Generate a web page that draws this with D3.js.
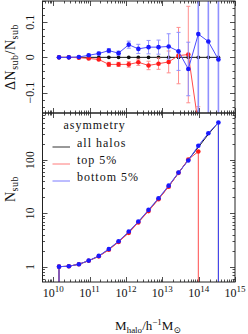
<!DOCTYPE html>
<html>
<head>
<meta charset="utf-8">
<script src="https://cdn.jsdelivr.net/npm/d3@7"></script>
<style>
body { margin: 0; background: #fff; }
svg text { font-family: "Liberation Serif", "DejaVu Serif", serif; fill: #111; }
</style>
</head>
<body>
<div id="viz"></div>
<script>
// halo mass bins (h^-1 Msun)
const haloMass = [1.45e10, 2.7e10, 5.1e10, 9.5e10, 1.8e11, 3.4e11, 6.3e11, 1.2e12, 2.2e12,
                  4.2e12, 7.9e12, 1.5e13, 2.8e13, 5.2e13, 9.8e13, 1.85e14, 3.5e14]

// mean number of subhalos
const nAll    = [1.0, 1.02, 1.11, 1.29, 1.57, 2.11, 2.96, 4.39, 6.84, 11.3, 18.7, 32.0, 57.0, 101, 173, 303, 506]
const nTop    = [1.0, 1.02, 1.11, 1.29, 1.56, 2.07, 2.90, 4.30, 6.74, 11.0, 18.3, 31.6, 57.3, 102, 144]
const nBottom = [1.0, 1.02, 1.11, 1.30, 1.59, 2.15, 3.0, 4.55, 7.0, 11.6, 19.2, 33, 58, 97.6, 184, 317, 503]

// fractional difference to all halos
const dTop       = [0, 0, -0.001, -0.003, -0.006, -0.020, -0.020, -0.020, -0.014, -0.023, -0.018, -0.013, 0.005, 0.008, -0.19]
const dTopErr    = [0, 0, 0.001, 0.002, 0.003, 0.006, 0.006, 0.008, 0.009, 0.012, 0.016, 0.031, 0.08, 0.137, 0.05]
const dBottom    = [0, 0, 0.001, 0.006, 0.011, 0.019, 0.012, 0.036, 0.024, 0.029, 0.029, 0.031, 0.017, -0.033, 0.066, 0.045, -0.006]
const dBottomErr = [0, 0, 0.002, 0.003, 0.004, 0.006, 0.006, 0.01, 0.013, 0.019, 0.02, 0.036, 0.054, 0.076, 0.5, 0.5, 0.5]

const yTopLabels = [0.1, 0, -0.1]
const yBotLabels = [1, 10, 100]
const xLabelExp = [10, 11, 12, 13, 14, 15]

const legendNames = ["all halos", "top 5%", "bottom 5%"]

const width = 248, height = 334
const pLeft = 42.5, pRight = 235, pTop = 1, pMid = 113, pBottom = 282

const cAll = "#111", cTop = "#ff1a1a", cBot = "#1a1aff"
const cTopLine = "#ff4a4a", cBotLine = "#4a4aff"
const cTopErr = "#ff8f8f", cBotErr = "#9090ff"

const svg = d3.select("#viz").append("svg")
    .attr("width", width)
    .attr("height", height)

const x = d3.scaleLog().domain([5.1e9, 1e15]).range([pLeft, pRight])
const yTop = d3.scaleLinear().domain([-0.158, 0.16]).range([pMid, pTop])
const yBot = d3.scaleLog().domain([0.516, 758]).range([pBottom, pMid])

svg.append("clipPath").attr("id", "clipTop").append("rect")
    .attr("x", pLeft).attr("y", pTop).attr("width", pRight - pLeft).attr("height", pMid - pTop)
svg.append("clipPath").attr("id", "clipBot").append("rect")
    .attr("x", pLeft).attr("y", pMid).attr("width", pRight - pLeft).attr("height", pBottom - pMid)

// ---- ticks
const axes = svg.append("g").attr("stroke", "#222").attr("stroke-width", 0.8)
const xt = x.ticks().filter(d => d >= x.domain()[0] && d <= x.domain()[1])
const isPow = d => Math.abs(Math.log10(d) - Math.round(Math.log10(d))) < 1e-6
;[[pTop, pMid], [pMid, pBottom]].forEach(([y0, y1]) => {
    xt.forEach(d => {
        const len = isPow(d) ? 5 : 2.5
        const px = Math.round(x(d)) + 0.5
        axes.append("line").attr("x1", px).attr("x2", px).attr("y1", y0).attr("y2", y0 + len)
        axes.append("line").attr("x1", px).attr("x2", px).attr("y1", y1).attr("y2", y1 - len)
    })
})
yTop.ticks(16).forEach(d => {
    const major = Math.abs(d * 10 - Math.round(d * 10)) < 1e-6
    const len = major ? 5 : 2.5
    const py = Math.round(yTop(d)) + 0.5
    axes.append("line").attr("x1", pLeft).attr("x2", pLeft + len).attr("y1", py).attr("y2", py)
    axes.append("line").attr("x1", pRight).attr("x2", pRight - len).attr("y1", py).attr("y2", py)
})
yBot.ticks().filter(d => d >= yBot.domain()[0] && d <= yBot.domain()[1]).forEach(d => {
    const len = isPow(d) ? 5 : 2.5
    const py = Math.round(yBot(d)) + 0.5
    axes.append("line").attr("x1", pLeft).attr("x2", pLeft + len).attr("y1", py).attr("y2", py)
    axes.append("line").attr("x1", pRight).attr("x2", pRight - len).attr("y1", py).attr("y2", py)
})

// ---- top panel
const gTop = svg.append("g").attr("clip-path", "url(#clipTop)")
const lineTop = d3.line().x(d => x(d[0])).y(d => yTop(d[1]))

function drawErr(g, vals, errs, color) {
    vals.forEach((v, i) => {
        if (!errs[i]) return
        const px = x(haloMass[i])
        const y1 = yTop(v - errs[i]), y2 = yTop(v + errs[i])
        g.append("line").attr("x1", px).attr("x2", px).attr("y1", y1).attr("y2", y2)
            .attr("stroke", color).attr("stroke-width", errs[i] > 0.3 ? 1.6 : 1)
        ;[y1, y2].forEach(yy => g.append("line").attr("x1", px - 2).attr("x2", px + 2)
            .attr("y1", yy).attr("y2", yy).attr("stroke", color))
    })
}

gTop.append("path").datum(haloMass.map(m => [m, 0]))
    .attr("d", lineTop).attr("fill", "none").attr("stroke", cAll)
gTop.selectAll(".pa").data(haloMass).enter().append("circle")
    .attr("cx", d => x(d)).attr("cy", yTop(0)).attr("r", 1.9).attr("fill", cAll)

drawErr(gTop, dTop, dTopErr, cTopErr)
gTop.append("path").datum(dTop.map((v, i) => [haloMass[i], v]))
    .attr("d", lineTop).attr("fill", "none").attr("stroke", cTopLine)
gTop.selectAll(".pt").data(dTop).enter().append("circle")
    .attr("cx", (d, i) => x(haloMass[i])).attr("cy", d => yTop(d)).attr("r", 2.3).attr("fill", cTop)

drawErr(gTop, dBottom, dBottomErr, cBotErr)
gTop.append("path").datum(dBottom.map((v, i) => [haloMass[i], v]))
    .attr("d", lineTop).attr("fill", "none").attr("stroke", cBotLine)
gTop.selectAll(".pb").data(dBottom).enter().append("circle")
    .attr("cx", (d, i) => x(haloMass[i])).attr("cy", d => yTop(d)).attr("r", 2.3).attr("fill", cBot)

// ---- bottom panel
const gBot = svg.append("g").attr("clip-path", "url(#clipBot)")
// empty bins at both ends drop the curve off the bottom of the panel
const lineBot = d3.line().x(d => x(d[0])).y(d => d[1] > 0 ? yBot(d[1]) : pBottom + 10)
function withDrops(vals) {
    const pts = vals.map((v, i) => [haloMass[i], v])
    return [[haloMass[0], 0], ...pts, [haloMass[vals.length - 1], 0]]
}
;[[nAll, cAll, cAll, 0], [nTop, cTopLine, cTop, 2.3], [nBottom, cBotLine, cBot, 2.3]].forEach(([vals, lc, pc, r]) => {
    gBot.append("path").datum(withDrops(vals))
        .attr("d", lineBot).attr("fill", "none").attr("stroke", lc)
    if (r) gBot.selectAll(null).data(vals).enter().append("circle")
        .attr("cx", (d, i) => x(haloMass[i])).attr("cy", d => yBot(d)).attr("r", r).attr("fill", pc)
})

// frames
;[[pTop, pMid], [pMid, pBottom]].forEach(([y0, y1]) => {
    svg.append("rect").attr("x", pLeft).attr("y", y0).attr("width", pRight - pLeft).attr("height", y1 - y0)
        .attr("fill", "none").attr("stroke", "#222").attr("stroke-width", 1)
})

// ---- labels
const fmtTop = d => d === 0 ? "0" : (d < 0 ? "\u22120.1" : "0.1")
yTopLabels.forEach(d => {
    svg.append("text").attr("transform", `translate(34,${yTop(d)}) rotate(-90)`)
        .attr("text-anchor", "middle").attr("font-size", 12).text(fmtTop(d))
})
yBotLabels.forEach(d => {
    svg.append("text").attr("transform", `translate(34,${yBot(d)}) rotate(-90)`)
        .attr("text-anchor", "middle").attr("font-size", 11.5).attr("letter-spacing", 0.3).text(d)
})
xLabelExp.forEach(e => {
    const t = svg.append("text").attr("x", x(Math.pow(10, e))).attr("y", 297)
        .attr("text-anchor", "middle").attr("font-size", 12)
    t.append("tspan").text("10")
    t.append("tspan").attr("dy", -5).attr("font-size", 9).text(e)
})

const yt = svg.append("text").attr("transform", `translate(15,${(pTop + pMid) / 2}) rotate(-90)`)
    .attr("text-anchor", "middle").attr("font-size", 14).attr("letter-spacing", 0.5)
yt.append("tspan").text("\u0394N")
yt.append("tspan").attr("dy", 3).attr("font-size", 10).text("sub")
yt.append("tspan").attr("dy", -3).text("/N")
yt.append("tspan").attr("dy", 3).attr("font-size", 10).text("sub")

const yb = svg.append("text").attr("transform", `translate(15,189) rotate(-90)`)
    .attr("text-anchor", "middle").attr("font-size", 14).attr("letter-spacing", 0.5)
yb.append("tspan").text("N")
yb.append("tspan").attr("dy", 3).attr("font-size", 10).text("sub")

const xtl = svg.append("text").attr("x", 148).attr("y", 330)
    .attr("text-anchor", "middle").attr("font-size", 13)
xtl.append("tspan").text("M")
xtl.append("tspan").attr("dy", 3).attr("font-size", 9).text("halo")
xtl.append("tspan").attr("dy", -3).text("/h")
xtl.append("tspan").attr("dy", -5).attr("font-size", 9).text("\u22121")
xtl.append("tspan").attr("dy", 5).text("M")
xtl.append("tspan").attr("dy", 3).attr("font-size", 9).text("\u2299")

// ---- legend
svg.append("text").attr("x", 63.5).attr("y", 129).attr("font-size", 12)
    .attr("letter-spacing", 1).text("asymmetry")
const legColors = ["#333", "#ff7a7a", "#7a7aff"]
legendNames.forEach((name, i) => {
    const ly = 147 + i * 17
    svg.append("line").attr("x1", 52.5).attr("x2", 70).attr("y1", ly).attr("y2", ly)
        .attr("stroke", legColors[i])
    svg.append("text").attr("x", 77).attr("y", ly - 0.5).attr("font-size", 12)
        .attr("letter-spacing", 1).text(name)
})
</script>
</body>
</html>
